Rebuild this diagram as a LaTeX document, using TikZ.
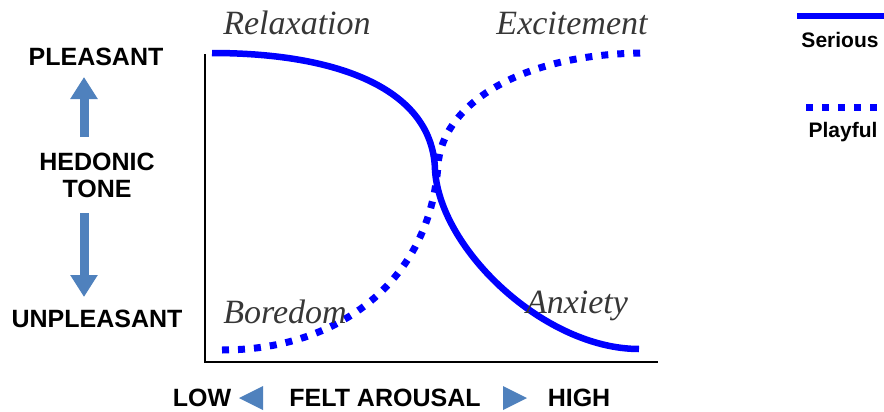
\documentclass[tikz,border=0pt]{standalone}
\usepackage{fontspec}
\setmainfont{Liberation Serif}
\setsansfont{Liberation Sans}
\usetikzlibrary{arrows.meta}
\definecolor{modeblue}{RGB}{0,0,255}
\definecolor{toneblue}{RGB}{79,129,189}
\definecolor{stategrey}{RGB}{55,55,55}
\tikzset{
  axisline/.style={draw=black,line width=1pt},
  serious/.style={draw=modeblue,line width=3.25pt},
  playful/.style={draw=modeblue,line width=3.5pt,dash pattern=on 3.5pt off 4.5pt},
  axislbl/.style={font=\sffamily\bfseries\fontsize{12.5}{14}\selectfont,anchor=base,inner sep=0pt},
  keylbl/.style={font=\sffamily\bfseries\fontsize{10.5}{12}\selectfont,anchor=base,inner sep=0pt},
  statelbl/.style={font=\itshape\fontsize{17}{20}\selectfont,text=stategrey,anchor=base,inner sep=0pt},
  tonearrow/.style={draw=toneblue,line width=4.5pt,-{Triangle[length=11pt,width=13pt]}},
}

\begin{document}
\begin{tikzpicture}[x=0.5pt,y=-0.5pt]
  \useasboundingbox (0,0) rectangle (884,412);

  % axes
  \coordinate (ytop) at (205,54);
  \coordinate (origin) at (205,362);
  \coordinate (xend) at (658,362);
  \draw[axisline] (ytop) -- (origin) -- (xend);

  % the two modes
  \draw[serious] (212,53) .. controls (340,53) and (433,90) .. (435,170)
    .. controls (440,250) and (545,349) .. (639,349);
  \draw[playful] (222,350) .. controls (340,350) and (430,280) .. (438,165)
    .. controls (442,105) and (520,53) .. (647,53);

  % states
  \node[statelbl] (relax)  at (297,34)  {Relaxation};
  \node[statelbl] (excite) at (572,34)  {Excitement};
  \node[statelbl] (bored)  at (285,323) {Boredom};
  \node[statelbl] (anx)    at (577,313) {Anxiety};

  % hedonic tone
  \node[axislbl] (pleas)   at (96,65)  {PLEASANT};
  \node[axislbl] (hedonic) at (97,170) {HEDONIC};
  \node[axislbl] (tone)    at (97,197) {TONE};
  \node[axislbl] (unpleas) at (97,327) {UNPLEASANT};
  \coordinate (upfoot) at (84,137);
  \coordinate (uptip)  at (84,77);
  \coordinate (dnfoot) at (84,213);
  \coordinate (dntip)  at (84,297);
  \draw[tonearrow] (upfoot) -- (uptip);
  \draw[tonearrow] (dnfoot) -- (dntip);

  % felt arousal
  \node[axislbl] (low)     at (202,406) {LOW};
  \node[axislbl] (arousal) at (385,406) {FELT AROUSAL};
  \node[axislbl] (high)    at (579,406) {HIGH};
  \coordinate (lowtri)  at (251,398);
  \coordinate (hightri) at (515,398);
  \fill[toneblue] (lowtri) ++(-12,0) -- ++(24,-12) -- ++(0,24) -- cycle;
  \fill[toneblue] (hightri) ++(12,0) -- ++(-24,-12) -- ++(0,24) -- cycle;

  % key
  \coordinate (serA) at (797,16);
  \coordinate (serB) at (884,16);
  \coordinate (plaA) at (806,107);
  \coordinate (plaB) at (884,107);
  \draw[serious] (serA) -- (serB);
  \draw[playful] (plaA) -- (plaB);
  \node[keylbl] (serkey) at (840,47)  {Serious};
  \node[keylbl] (plakey) at (843,137) {Playful};
\end{tikzpicture}
\end{document}
